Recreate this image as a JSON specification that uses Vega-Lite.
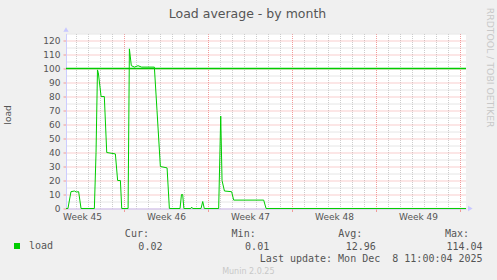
{
  "$schema": "https://vega.github.io/schema/vega-lite/v6.json",
  "background": "#f0f0f0",
  "padding": {"left": 3, "top": 7.5, "right": 3, "bottom": 5},
  "config": {"font": "DejaVu Sans", "view": {"stroke": null}, "title": {"fontWeight": "normal"}},
  "title": {"text": "RRDTOOL / TOBI OETIKER", "orient": "right", "anchor": "start", "fontSize": 9.3, "fontWeight": "normal", "color": "#c8c8c8", "offset": 2},
  "spacing": 7.5,
  "vconcat": [
    {
      "title": {"text": "Load average - by month", "fontSize": 12.5, "color": "#555555", "anchor": "middle", "frame": "group", "dx": -18.5, "offset": 7},
      "width": 400,
      "height": 175,
      "view": {"fill": "#ffffff", "stroke": null},
      "resolve": {"axis": {"x": "independent", "y": "independent"}},
      "layer": [
        {
          "data": {"values": [
            {"d": 2.17, "load": 0.01}, {"d": 2.33, "load": 0.01}, {"d": 2.58, "load": 12}, {"d": 2.87, "load": 12.5},
            {"d": 3.02, "load": 11.8}, {"d": 3.22, "load": 12}, {"d": 3.42, "load": 0.01}, {"d": 4.53, "load": 0.01},
            {"d": 4.67, "load": 40}, {"d": 4.79, "load": 99}, {"d": 4.86, "load": 97}, {"d": 5.09, "load": 80},
            {"d": 5.36, "load": 80}, {"d": 5.56, "load": 40}, {"d": 6.28, "load": 39}, {"d": 6.47, "load": 20},
            {"d": 6.7, "load": 20}, {"d": 6.81, "load": 0.01}, {"d": 7.34, "load": 0.01}, {"d": 7.45, "load": 114.04},
            {"d": 7.61, "load": 102}, {"d": 7.87, "load": 101}, {"d": 8.17, "load": 102}, {"d": 8.47, "load": 101},
            {"d": 9.53, "load": 101}, {"d": 9.75, "load": 70}, {"d": 10.03, "load": 30}, {"d": 10.59, "load": 29},
            {"d": 10.78, "load": 0.01}, {"d": 11.67, "load": 0.01}, {"d": 11.79, "load": 10}, {"d": 11.89, "load": 10},
            {"d": 11.99, "load": 0.01}, {"d": 12.57, "load": 0.01}, {"d": 12.64, "load": 1}, {"d": 12.72, "load": 0.01},
            {"d": 13.42, "load": 0.01}, {"d": 13.56, "load": 5}, {"d": 13.69, "load": 0.01}, {"d": 14.89, "load": 0.01},
            {"d": 15.06, "load": 66}, {"d": 15.17, "load": 20}, {"d": 15.37, "load": 12.5}, {"d": 15.97, "load": 12},
            {"d": 16.14, "load": 6}, {"d": 18.64, "load": 6}, {"d": 18.84, "load": 0.01}, {"d": 35.5, "load": 0.02}
          ]},
          "mark": {"type": "line", "strokeWidth": 1},
          "encoding": {
            "x": {
              "field": "d", "type": "quantitative",
              "scale": {"domain": [2.1667, 35.5], "nice": false, "zero": false},
              "axis": {
                "values": [3, 3.5, 4, 5, 6, 7, 8, 9, 10, 10.5, 11, 12, 13, 14, 15, 16, 17, 17.5, 18, 19, 20, 21, 22, 23, 24, 24.5, 25, 26, 27, 28, 29, 30, 31, 31.5, 32, 33, 34, 35],
                "title": null,
                "grid": true,
                "gridColor": {"condition": {"test": "datum.value % 7 === 0", "value": "#f29a9a"}, "value": "#cccccc"},
                "gridOpacity": {"condition": {"test": "datum.value % 1 !== 0", "value": 0}, "value": 1},
                "gridDash": [1, 1],
                "tickColor": "#f29a9a",
                "tickOpacity": {"condition": {"test": "datum.value % 7 === 0", "value": 1}, "value": 0},
                "tickSize": 3,
                "labelExpr": "datum.value % 1 === 0.5 ? 'Week ' + (45 + (datum.value - 3.5) / 7) : ''",
                "labelOverlap": false, "labelFlush": false, "labelBound": false,
                "labelFont": "DejaVu Sans", "labelFontSize": 9, "labelColor": "#555555", "labelPadding": 1,
                "domainColor": "#ccccff"
              }
            },
            "y": {
              "field": "load", "type": "quantitative",
              "scale": {"domain": [0, 125], "nice": false},
              "axis": {
                "values": [0, 5, 10, 15, 20, 25, 30, 35, 40, 45, 50, 55, 60, 65, 70, 75, 80, 85, 90, 95, 100, 105, 110, 115, 120, 125],
                "title": "load",
                "grid": true,
                "gridColor": {"condition": {"test": "datum.value % 10 === 0", "value": "#f29a9a"}, "value": "#cccccc"},
                "gridDash": [1, 1],
                "tickColor": "#f29a9a",
                "tickOpacity": {"condition": {"test": "datum.value % 10 === 0", "value": 1}, "value": 0},
                "tickSize": 3,
                "labelExpr": "datum.value % 10 === 0 ? datum.label : ''",
                "labelOverlap": false, "labelFlush": false,
                "labelFont": "DejaVu Sans", "labelFontSize": 9, "labelColor": "#555555", "labelPadding": 3,
                "titleFont": "DejaVu Sans", "titleFontSize": 9, "titleFontWeight": "normal", "titleColor": "#555555",
                "titleAngle": -90, "titleX": -59, "titleY": 81, "titleAlign": "center", "titleBaseline": "middle",
                "domainColor": "#ccccff"
              }
            },
            "color": {
              "datum": "load", "type": "nominal",
              "scale": {"range": ["#00cc00"]},
              "legend": {
                "orient": "none", "legendX": -54, "legendY": 207.5, "title": null,
                "symbolType": "square", "symbolSize": 36, "symbolFillColor": "#00cc00", "symbolStrokeWidth": 0,
                "labelFont": "DejaVu Sans Mono", "labelFontSize": 10, "labelColor": "#555555", "labelOffset": 7, "padding": 0
              }
            }
          }
        },
        {
          "data": {"values": [{}]},
          "mark": {"type": "rule", "color": "#00cc00", "strokeWidth": 1.3},
          "encoding": {"y": {"datum": 100, "type": "quantitative", "axis": null}}
        },
        {
          "data": {"values": [{}]},
          "mark": {"type": "point", "shape": "triangle-up", "filled": true, "color": "#c8c8ff", "opacity": 1, "size": 28, "clip": false},
          "encoding": {
            "x": {"datum": 2.1667, "type": "quantitative", "axis": null},
            "y": {"datum": 127.8, "type": "quantitative", "axis": null}
          }
        },
        {
          "data": {"values": [{}]},
          "mark": {"type": "point", "shape": "triangle-right", "filled": true, "color": "#c8c8ff", "opacity": 1, "size": 28, "clip": false},
          "encoding": {
            "x": {"datum": 35.86, "type": "quantitative", "axis": null},
            "y": {"datum": 0, "type": "quantitative", "axis": null}
          }
        }
      ]
    },
    {
      "width": 416.6,
      "height": 25,
      "view": {"stroke": null},
      "title": {"text": "Munin 2.0.25", "orient": "bottom", "anchor": "middle", "frame": "group", "fontSize": 8, "color": "#c8c8c8", "offset": 4, "dx": -26},
      "data": {"values": [
        {"stat": "Cur", "header": "Cur:", "value": "0.02"},
        {"stat": "Min", "header": "Min:", "value": "0.01"},
        {"stat": "Avg", "header": "Avg:", "value": "12.96"},
        {"stat": "Max", "header": "Max:", "value": "114.04"}
      ]},
      "layer": [
        {
          "mark": {"type": "text", "align": "right", "baseline": "middle", "dx": -13.5, "font": "DejaVu Sans Mono", "fontSize": 10, "color": "#555555"},
          "encoding": {
            "x": {"field": "stat", "type": "ordinal", "scale": {"type": "point", "domain": ["Cur", "Min", "Avg", "Max"], "padding": 0.452, "align": 1}, "axis": null},
            "y": {"datum": "head", "type": "ordinal", "scale": {"type": "point", "domain": ["head", "value", "update"], "padding": 0}, "axis": null},
            "text": {"field": "header"}
          }
        },
        {
          "mark": {"type": "text", "align": "right", "baseline": "middle", "font": "DejaVu Sans Mono", "fontSize": 10, "color": "#555555"},
          "encoding": {
            "x": {"field": "stat", "type": "ordinal", "axis": null},
            "y": {"datum": "value", "type": "ordinal", "axis": null},
            "text": {"field": "value"}
          }
        },
        {
          "data": {"values": [{"stat": "Max", "note": "Last update: Mon Dec\u00a0\u00a08 11:00:04 2025"}]},
          "mark": {"type": "text", "align": "right", "baseline": "middle", "font": "DejaVu Sans Mono", "fontSize": 10, "color": "#555555"},
          "encoding": {
            "x": {"field": "stat", "type": "ordinal", "axis": null},
            "y": {"datum": "update", "type": "ordinal", "axis": null},
            "text": {"field": "note"}
          }
        }
      ]
    }
  ]
}
